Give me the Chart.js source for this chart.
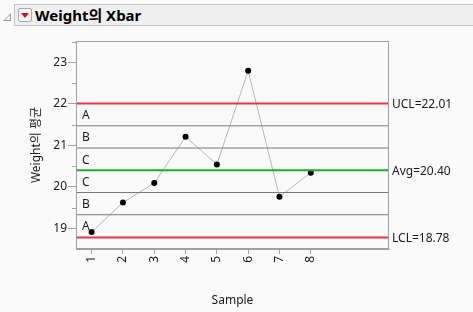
<!DOCTYPE html>
<html>
<head>
<meta charset="utf-8">
<script src="https://cdn.jsdelivr.net/npm/chart.js@4"></script>
<style>
  html, body { margin: 0; padding: 0; background: #fafafa; }
  #wrap { position: relative; width: 473px; height: 312px; overflow: hidden; }
  #bar {
    position: absolute; left: 14px; top: 4px; width: 470px; height: 22px;
    background: #efefef; border: 1px solid #c4c4c4; box-sizing: border-box;
  }
  #tri {
    position: absolute; left: 3px; top: 13px; width: 0; height: 0;
    border-left: 8px solid transparent; border-bottom: 8px solid #9a9a9a;
  }
  #tri:after {
    content: ""; position: absolute; left: -6px; top: 2px;
    border-left: 5px solid transparent; border-bottom: 5px solid #fafafa;
  }
  #btn {
    position: absolute; left: 18px; top: 8px; width: 14px; height: 14px;
    border: 1px solid #a8a8a8; border-radius: 2px; background: #f6f6f6; box-sizing: border-box;
  }
  #btn:after {
    content: ""; position: absolute; left: 2px; top: 4px;
    border-left: 4px solid transparent; border-right: 4px solid transparent; border-top: 5px solid #d0121b;
  }
  #title {
    position: absolute; left: 35px; top: 5px; font: bold 15px "Noto Sans", "Noto Sans CJK KR", sans-serif;
    color: #000; line-height: 20px;
  }
  canvas { position: absolute; left: 0; top: 0; }
</style>
</head>
<body>
<div id="wrap">
  <div id="bar"></div>
  <div id="tri"></div>
  <div id="btn"></div>
  <div id="title">Weight의 Xbar</div>
  <canvas id="myChart" width="473" height="312"></canvas>
</div>
<script>
const samples = [1, 2, 3, 4, 5, 6, 7, 8];
const means = [18.91, 19.62, 20.09, 21.21, 20.54, 22.80, 19.76, 20.34];
const ucl = 22.01;
const avg = 20.40;
const lcl = 18.78;
const yTicks = [19, 20, 21, 22, 23];
const zoneLetters = ["A", "B", "C", "C", "B", "A"];

const xMin = 0.5, xMax = 10.5;
const yMin = 18.5, yMax = 23.52;
const sigma = (ucl - avg) / 3;
const zoneLines = [avg + 2 * sigma, avg + sigma, avg - sigma, avg - 2 * sigma];
const zoneEdges = [ucl, avg + 2 * sigma, avg + sigma, avg, avg - sigma, avg - 2 * sigma, lcl];

const fontFam = '"Noto Sans", "Noto Sans CJK KR", sans-serif';

let hLine = (v, color, width) => ({
  data: [{ x: xMin, y: v }, { x: xMax, y: v }],
  borderColor: color,
  borderWidth: width,
  pointRadius: 0,
  fill: false
});

let datasets = [];
zoneLines.forEach(v => datasets.push(hLine(v, "#7a7a7a", 1)));
datasets.push(hLine(ucl, "#e8334a", 2));
datasets.push(hLine(lcl, "#e8334a", 2));
datasets.push(hLine(avg, "#21ad2b", 2));
datasets.push({
  data: samples.map((s, i) => ({ x: s, y: means[i] })),
  borderColor: "#b4b4b4",
  borderWidth: 1,
  pointRadius: 3,
  pointBackgroundColor: "#000",
  pointBorderColor: "#000",
  pointBorderWidth: 0,
  fill: false
});

const extras = {
  id: "extras",
  afterDraw(chart) {
    const ctx = chart.ctx;
    const a = chart.chartArea;
    const y = chart.scales.y;
    ctx.save();
    // frame
    ctx.strokeStyle = "#a0a0a0";
    ctx.lineWidth = 1;
    ctx.strokeRect(Math.round(a.left) + 0.5, Math.round(a.top) + 0.5,
      Math.round(a.right - a.left) - 1, Math.round(a.bottom - a.top) - 1);
    // minor ticks
    ctx.beginPath();
    for (let v = 19.5; v < yMax; v += 1) {
      const py = Math.round(y.getPixelForValue(v)) + 0.5;
      ctx.moveTo(a.left - 4, py);
      ctx.lineTo(a.left, py);
    }
    ctx.stroke();
    // zone letters
    ctx.fillStyle = "#1a1a1a";
    ctx.font = "12px " + fontFam;
    ctx.textAlign = "left";
    ctx.textBaseline = "middle";
    zoneLetters.forEach((t, i) => {
      const py = (y.getPixelForValue(zoneEdges[i]) + y.getPixelForValue(zoneEdges[i + 1])) / 2;
      ctx.fillText(t, a.left + 6, py + 1);
    });
    // limit labels
    [["UCL", ucl], ["Avg", avg], ["LCL", lcl]].forEach(([n, v]) => {
      ctx.fillText(n + "=" + v.toFixed(2), a.right + 3, y.getPixelForValue(v) + 1);
    });
    ctx.restore();
  }
};

let ctx = document.getElementById("myChart").getContext("2d");
let chart = new Chart(ctx, {
  type: "line",
  data: { datasets: datasets },
  options: {
    responsive: false,
    animation: false,
    events: [],
    layout: { padding: { left: 29, right: 84, top: 41, bottom: 0 } },
    plugins: { legend: { display: false }, tooltip: { enabled: false } },
    scales: {
      x: {
        type: "linear",
        min: xMin,
        max: xMax,
        afterBuildTicks: s => { s.ticks = samples.map(v => ({ value: v })); },
        afterFit: s => { s.height = 63; },
        ticks: {
          minRotation: 90, maxRotation: 90, padding: 2,
          color: "#1a1a1a", font: { family: fontFam, size: 12 }
        },
        grid: { drawOnChartArea: false, tickLength: 5, color: "#a0a0a0" },
        border: { color: "#a0a0a0" },
        title: {
          display: true, text: "Sample", color: "#1a1a1a",
          font: { family: fontFam, size: 12 }, padding: { top: 0, bottom: 4 }
        }
      },
      y: {
        min: yMin,
        max: yMax,
        afterBuildTicks: s => { s.ticks = yTicks.map(v => ({ value: v })); },
        afterFit: s => { s.width = 47; },
        ticks: { padding: 1, color: "#1a1a1a", font: { family: fontFam, size: 12 } },
        grid: { drawOnChartArea: false, tickLength: 8, color: "#a0a0a0" },
        border: { color: "#a0a0a0" },
        title: {
          display: true, text: "Weight의 평균", color: "#1a1a1a",
          font: { family: fontFam, size: 12 }, padding: 0
        }
      }
    }
  },
  plugins: [extras]
});
</script>
</body>
</html>
